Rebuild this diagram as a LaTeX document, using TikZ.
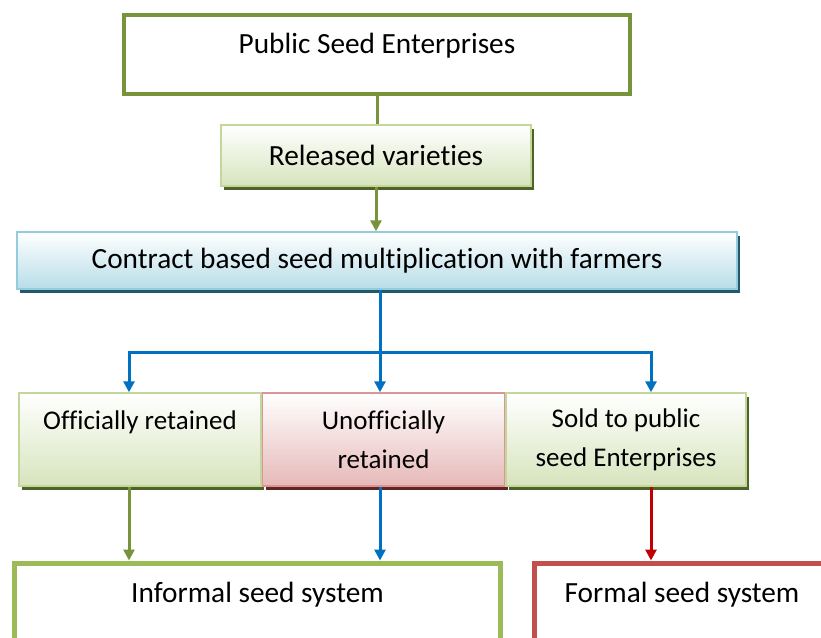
\documentclass[tikz,border=0pt]{standalone}
\usepackage{fontspec}
\setmainfont{Carlito}[Ligatures=NoCommon]
\usetikzlibrary{positioning,shadows,arrows.meta}

\definecolor{oliveline}{HTML}{77933C}
\definecolor{greenline}{HTML}{9BBB59}
\definecolor{redline}{HTML}{C0504D}
\definecolor{blueline}{HTML}{0070C0}
\definecolor{darkred}{HTML}{C00000}
\definecolor{greenedge}{HTML}{C3D69B}
\definecolor{greenfill}{HTML}{D7E4BD}
\definecolor{greenshade}{HTML}{4F6228}
\definecolor{blueedge}{HTML}{93CDDD}
\definecolor{bluefill}{HTML}{B7DDE8}
\definecolor{blueshade}{HTML}{215968}
\definecolor{rededge}{HTML}{D99694}
\definecolor{redfill}{HTML}{E6B9B8}
\definecolor{redshade}{HTML}{632523}

\begin{document}
\begin{tikzpicture}[x=1pt,y=-1pt]
				
				\tikzset{
					every node/.style={font=\fontsize{29.3}{39}\selectfont, inner sep=0pt, align=center},
					frame box/.style={draw=#1, fill=white, line width=4pt,
						minimum height=79pt, text height=20pt},
					soft box/.style={draw=#1edge, line width=1.5pt,
						top color=white, bottom color=#1fill,
						drop shadow={shadow xshift=3pt, shadow yshift=-4pt, opacity=1, fill=#1shade}},
					way box/.style={soft box=#1, minimum height=93pt, font=\fontsize{27}{39}\selectfont},
					link/.style={line width=3pt, -{Triangle[length=11pt,width=11pt]}}
				}
				
				\useasboundingbox (0,0) rectangle (821,637);
				
				% top of the chain
				\node[frame box=oliveline, minimum width=506pt, text depth=23pt] (pse) at (377,54.5) {Public Seed Enterprises};
				\node[soft box=green, minimum width=310pt, minimum height=61pt] (rel) at (376,155.5) {Released varieties};
				\node[soft box=blue, minimum width=720pt, minimum height=57pt] (con) at (377,260.5) {Contract based seed multiplication with farmers};
				
				% the three ways
				\node[way box=green, minimum width=242pt, text height=19pt, text depth=40pt] (off) at (140,439.5) {Officially retained};
				\node[way box=red, minimum width=242pt, right=0pt of off] (unoff) {Unofficially\\retained};
				\node[way box=green, minimum width=240pt, right=0pt of unoff] (sold) {Sold to public\\seed Enterprises};
				
				% the two systems
				\node[frame box=greenline, line width=5pt, minimum width=486pt, text depth=21pt] (inf) at (257.5,602.5) {Informal seed system};
				\node[frame box=redline, line width=5pt, minimum width=295pt, text depth=21pt] (form) at (682,602.5) {Formal seed system};
				
				\coordinate (split) at (380,352);
				
				\draw[oliveline, line width=3pt] (pse) -- (pse |- rel.north);
				\draw[link, oliveline] (rel.south) -- (rel.south |- con.north);
				\draw[blueline, line width=3pt] (con.south -| split) -- (split);
				\draw[link, blueline] (split) -| ([xshift=-11pt]off.north);
				\draw[link, blueline] (split) -| ([xshift=25pt]sold.north);
				\draw[link, blueline] (split) -- (split |- unoff.north);
				
				\draw[link, oliveline] ([xshift=-11pt]off.south) -- ([xshift=-11pt]off.south |- inf.north);
				\draw[link, blueline] (split |- unoff.south) -- (split |- inf.north);
				\draw[link, darkred] ([xshift=25pt]sold.south) -- ([xshift=25pt]sold.south |- form.north);
				
				\end{tikzpicture}
\end{document}
